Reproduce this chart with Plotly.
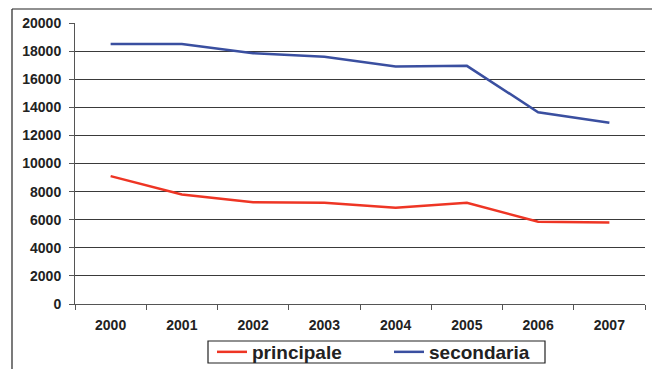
import plotly.graph_objects as go

years = ["2000", "2001", "2002", "2003", "2004", "2005", "2006", "2007"]
principale = [9100, 7800, 7250, 7200, 6850, 7200, 5850, 5800]
secondaria = [18500, 18500, 17850, 17600, 16900, 16950, 13650, 12900]
y_ticks = list(range(0, 20001, 2000))
y_labels = [str(v) for v in y_ticks]

W, H = 652, 369
L, R, T, B = 75, 7, 23, 65
pw, ph = W - L - R, H - T - B

def px_x(x):
    return (x - L) / pw

def px_y(y):
    return (H - B - y) / ph

fig = go.Figure()
fig.add_trace(go.Scatter(x=years, y=principale, name="principale", mode="lines",
                         line=dict(color="#ee3524", width=2.5)))
fig.add_trace(go.Scatter(x=years, y=secondaria, name="secondaria", mode="lines",
                         line=dict(color="#3a4fa0", width=2.5)))

# frame around the chart (left and top edges)
fig.add_shape(type="line", xref="paper", yref="paper",
              x0=px_x(12), x1=px_x(652), y0=px_y(9), y1=px_y(9),
              line=dict(color="#222", width=1.2))
fig.add_shape(type="line", xref="paper", yref="paper",
              x0=px_x(12), x1=px_x(12), y0=px_y(9), y1=px_y(369),
              line=dict(color="#222", width=1.2))
# box around the legend
fig.add_shape(type="rect", xref="paper", yref="paper",
              x0=px_x(208), x1=px_x(545), y0=px_y(341), y1=px_y(363),
              line=dict(color="#222", width=1.2), fillcolor="rgba(0,0,0,0)")

bold = dict(family="Liberation Sans, Arial, sans-serif", weight="bold", color="#222")

fig.update_layout(
    width=W, height=H,
    margin=dict(l=L, r=R, t=T, b=B, autoexpand=False),
    paper_bgcolor="white", plot_bgcolor="white",
    font=dict(family="Liberation Sans, Arial, sans-serif", color="#222"),
    showlegend=True,
    legend=dict(orientation="h", x=px_x(389), xanchor="center",
                y=px_y(352), yanchor="middle",
                bgcolor="rgba(0,0,0,0)", borderwidth=0,
                font=dict(size=19, **bold),
                entrywidth=132, itemwidth=30,
                tracegroupgap=0),
    xaxis=dict(type="category", showgrid=False, showline=True,
               linecolor="#555", linewidth=1,
               ticks="outside", ticklen=5, tickcolor="#555",
               tickson="boundaries", ticklabelstandoff=8,
               tickfont=dict(size=14, **bold),
               range=[-0.5, 7.5]),
    yaxis=dict(range=[0, 20000], tickvals=y_ticks, ticktext=y_labels,
               showgrid=True, gridcolor="#3a3a3a", gridwidth=1,
               showline=True, linecolor="#555", linewidth=1,
               ticks="outside", ticklen=5, tickcolor="#555",
               ticklabelstandoff=5,
               tickfont=dict(size=14, **bold),
               zeroline=False),
)

fig.write_html("out.html")
